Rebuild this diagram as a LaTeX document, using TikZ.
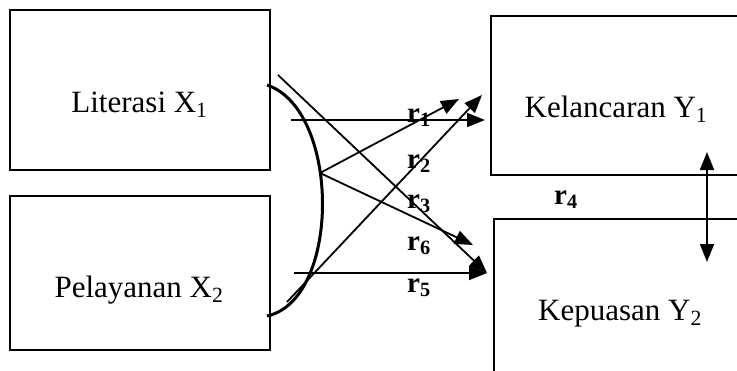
\documentclass[tikz,border=0pt]{standalone}
\usepackage{fontspec}
\setmainfont{Liberation Serif}
\usetikzlibrary{arrows.meta}
\begin{document}
\begin{tikzpicture}[x=1pt,y=-1pt,
  box/.style={draw,line width=1.3pt,inner sep=0pt},
  boxtext/.style={anchor=base,font=\fontsize{31}{34}\selectfont,inner sep=0pt},
  lbl/.style={anchor=base west,font=\bfseries\fontsize{29}{32}\selectfont,inner sep=0pt},
  conn/.style={line width=1.8pt,-{Triangle[length=18pt,width=14pt]}}]
\useasboundingbox (0,0) rectangle (737,370);
\clip (0,0) rectangle (737,370);
% boxes
\node[box,minimum width=260pt,minimum height=160pt] (x1) at (140,90) {};
\node[box,minimum width=260pt,minimum height=154pt] (x2) at (140,273) {};
\node[box,minimum width=269pt,minimum height=159pt] (y1) at (625.5,95.5) {};
\node[box,minimum width=266pt,minimum height=182pt] (y2) at (627,310) {};
% texts
\node[boxtext] (tx1) at (139.5,112) {Literasi X\textsubscript{1}};
\node[boxtext] (tx2) at (139,297) {Pelayanan X\textsubscript{2}};
\node[boxtext] (ty1) at (616,117) {Kelancaran Y\textsubscript{1}};
\node[boxtext] (ty2) at (620,320) {Kepuasan Y\textsubscript{2}};
% coordinates
\coordinate (bt) at (267,85);
\coordinate (bb) at (267,316);
\coordinate (bm) at (320,173);
\coordinate (a1s) at (291,120);
\coordinate (a1e) at (485,120);
\coordinate (a2e) at (459,99);
\coordinate (a3s) at (287,302);
\coordinate (a3e) at (482,95);
\coordinate (a4e) at (473,245);
\coordinate (a5s) at (278,75);
\coordinate (a5e) at (487,273);
\coordinate (a6s) at (294,273);
\coordinate (vt) at (707,152);
\coordinate (vb) at (707,262);
% bracket
\draw[line width=3pt] (bt) .. controls (341,110) and (341,300) .. (bb);
% arrows
\draw[conn] (a1s) -- (a1e);
\draw[conn] (bm) -- (a2e);
\draw[conn] (a3s) -- (a3e);
\draw[conn] (bm) -- (a4e);
\draw[conn] (a5s) -- (a5e);
\draw[conn] (a6s) -- (a5e);
\draw[line width=1.8pt,{Triangle[length=18pt,width=14pt]}-{Triangle[length=18pt,width=14pt]}] (vt) -- (vb);
% labels
\node[lbl] (r1) at (407,122) {r\textsubscript{1}};
\node[lbl] (r2) at (407,168) {r\textsubscript{2}};
\node[lbl] (r3) at (407,208) {r\textsubscript{3}};
\node[lbl] (r6) at (407,250) {r\textsubscript{6}};
\node[lbl] (r5) at (407,292) {r\textsubscript{5}};
\node[lbl] (r4) at (554,204) {r\textsubscript{4}};
\end{tikzpicture}
\end{document}
